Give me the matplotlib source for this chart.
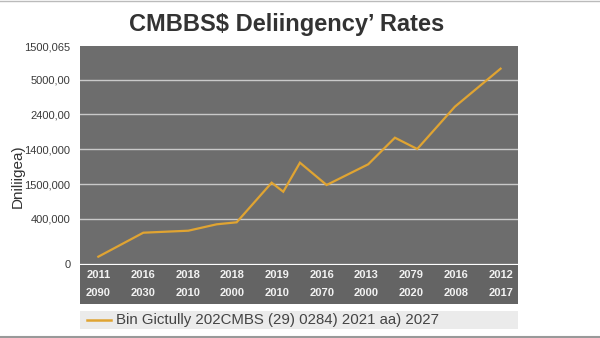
import matplotlib
matplotlib.use("Agg")
import matplotlib.pyplot as plt
from matplotlib.lines import Line2D

# Series: position along the period axis (column index) and rate level
x_pos = [0.0, 1.006, 2.013, 2.648, 3.095, 3.878, 4.138, 4.511, 5.108,
         6.039, 6.636, 7.135, 7.978, 9.0]
rates = [0.208, 0.89, 0.947, 1.129, 1.186, 2.312, 2.056, 2.881, 2.247,
         2.836, 3.592, 3.271, 4.474, 5.555]

# Y axis ticks and labels
y_ticks = [0.0, 1.28, 2.27, 3.27, 4.26, 5.24, 6.2]
y_labels = ["0", "400,000", "1500,000", "1400,000", "2400,00", "5000,00", "1500,065"]

# Two-row period table under the plot
row_top = ["2011", "2016", "2018", "2018", "2019", "2016", "2013", "2079", "2016", "2012"]
row_bottom = ["2090", "2030", "2010", "2000", "2010", "2070", "2000", "2020", "2008", "2017"]

title = "CMBBS$ Deliingency\u2019 Rates"
y_title = "Dniliigea)"
series_label = "Bin Gictully 202CMBS (29) 0284) 2021 aa) 2027"

plt.rcParams["font.family"] = ["Liberation Sans", "DejaVu Sans"]

W, H = 600, 338
fig = plt.figure(figsize=(W / 100, H / 100), dpi=100)
fig.patch.set_facecolor("white")

def box(x0, y0, x1, y1):
    return [x0 / W, 1 - y1 / H, (x1 - x0) / W, (y1 - y0) / H]

line_color = "#e0a432"
face = "#6d6d6d"
grid_color = "#c9c9c9"
xlim = (-0.41, 9.39)

ax = fig.add_axes(box(80, 46, 518, 264))
ax.set_facecolor(face)
ax.plot(x_pos, rates, color=line_color, lw=1.6, solid_joinstyle="miter", zorder=3)
ax.set_xlim(*xlim)
ax.set_ylim(0, 6.2)
ax.set_yticks(y_ticks)
ax.set_yticklabels(y_labels, fontsize=8, color="#3a3a3a")
ax.set_xticks([])
for yv in y_ticks[:-1]:
    ax.axhline(yv, color=grid_color, lw=1.0, zorder=1)
ax.tick_params(axis="y", length=0, pad=7)
for s in ax.spines.values():
    s.set_visible(False)

fig.text(18 / W, 1 - 176 / H, y_title, rotation=90, ha="center", va="center",
         fontsize=11, color="#333333")
fig.text(287 / W, 1 - 24 / H, title, ha="center", va="center",
         fontsize=17, fontweight="bold", color="#333333")

# Period table
tab = fig.add_axes(box(80, 265, 518, 304))
tab.set_facecolor("#646464")
tab.set_xlim(*xlim)
tab.set_ylim(0, 1)
tab.set_xticks([])
tab.set_yticks([])
for s in tab.spines.values():
    s.set_visible(False)
for i, (a, b) in enumerate(zip(row_top, row_bottom)):
    tab.text(i, 0.74, a, ha="center", va="center", fontsize=8,
             color="#f2f2f2", fontweight="bold")
    tab.text(i, 0.28, b, ha="center", va="center", fontsize=8,
             color="#f2f2f2", fontweight="bold")

# Legend strip
leg = fig.add_axes(box(80, 311, 518, 329))
leg.set_facecolor("#ebebeb")
leg.set_xlim(80, 518)
leg.set_ylim(0, 1)
leg.set_xticks([])
leg.set_yticks([])
for s in leg.spines.values():
    s.set_visible(False)
leg.plot([87, 111], [0.5, 0.5], color=line_color, lw=1.8)
leg.text(116, 0.5, series_label, ha="left", va="center", fontsize=10.8, color="#444444")

# Thin frame rules at the top and bottom of the figure
fig.add_artist(Line2D([0, 1], [1 - 0.5 / H, 1 - 0.5 / H], color="#bbbbbb", lw=1.0))
fig.add_artist(Line2D([0, 1], [1 - 336.5 / H, 1 - 336.5 / H], color="#999999", lw=1.5))

fig.savefig("out.png", dpi=100, facecolor="white")
